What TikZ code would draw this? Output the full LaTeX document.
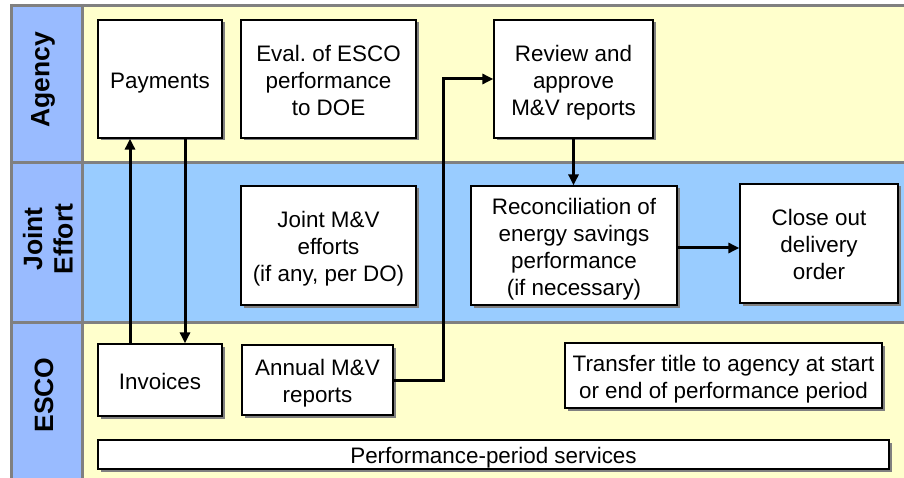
\documentclass[tikz,border=0pt]{standalone}
\usepackage{fontspec}
\setmainfont{Liberation Sans}
\usetikzlibrary{arrows.meta,shadows}
\frenchspacing

\definecolor{lanecol}{RGB}{153,187,255}
\definecolor{jointfill}{RGB}{153,204,255}
\definecolor{partyfill}{RGB}{255,255,204}
\definecolor{framegray}{RGB}{128,128,128}

% centred lines of a task box, with a little extra room above the first line
\newcommand\boxtext[1]{\begin{tabular}{@{}c@{}}\rule{0pt}{26.4pt}#1\end{tabular}}

\tikzset{
  taskbox/.style={draw=black, line width=1.2pt, fill=white,
    font=\fontsize{22.4}{27}\selectfont, inner sep=0pt,
    drop shadow={shadow xshift=2.5pt, shadow yshift=-2.5pt, fill=framegray, opacity=1}},
  lanelabel/.style={rotate=90, align=center, font=\fontsize{26.5}{30.5}\selectfont\bfseries},
  flow/.style={line width=3pt, -{Triangle[length=11pt,width=10pt]}},
  divider/.style={draw=framegray, line width=3pt}
}

\begin{document}
\begin{tikzpicture}[x=1pt, y=-1pt]
  \useasboundingbox (0,0) rectangle (904,478);

  % swimlane backgrounds
  \fill[partyfill] (12,5) rectangle (904,478);
  \fill[jointfill] (82,162) rectangle (904,322);
  \fill[lanecol] (12,5) rectangle (82,478);

  % frame and lane dividers
  \draw[divider] (10,5.3) -- (904,5.3);
  \draw[divider] (11.3,4) -- (11.3,478);
  \draw[divider] (82.3,4) -- (82.3,478);
  \draw[divider] (10,162.5) -- (904,162.5);
  \draw[divider] (10,322.3) -- (904,322.3);

  % lane titles
  \node[lanelabel] (lagency) at (43,80) {Agency};
  \node[lanelabel] (ljoint) at (48,239) {Joint\\Effort};
  \node[lanelabel] (lesco) at (44,395) {ESCO};

  % Agency lane
  \node[taskbox, minimum width=124pt, minimum height=118pt] (pay) at (160,79) {\boxtext{Payments}};
  \node[taskbox, minimum width=175pt, minimum height=118pt] (eval) at (328.5,79) {\boxtext{Eval. of ESCO\\performance\\to DOE}};
  \node[taskbox, minimum width=159pt, minimum height=118pt] (rev) at (573.5,79) {\boxtext{Review and\\approve\\M\&V reports}};

  % Joint effort lane
  \node[taskbox, minimum width=175pt, minimum height=119pt] (jmv) at (328.5,245.5) {\boxtext{Joint M\&V\\efforts\\(if any, per DO)}};
  \node[taskbox, minimum width=206pt, minimum height=119pt] (rec) at (574,245.5) {\boxtext{Reconciliation of\\energy savings\\performance\\(if necessary)}};
  \node[taskbox, minimum width=158pt, minimum height=119pt] (close) at (819,243.5) {\boxtext{Close out\\delivery\\order}};

  % ESCO lane
  \node[taskbox, minimum width=124pt, minimum height=72pt] (inv) at (160,380) {\boxtext{Invoices}};
  \node[taskbox, minimum width=151pt, minimum height=70pt] (ann) at (317.5,380) {\boxtext{Annual M\&V\\reports}};
  \node[taskbox, minimum width=317pt, minimum height=65pt] (title) at (723.5,375.5) {\boxtext{Transfer title to agency at start\\or end of performance period}};
  \node[taskbox, minimum width=791pt, minimum height=29pt] (serv) at (493.5,454.5) {\rule{0pt}{22pt}Performance-period services};

  % connector guides
  \coordinate (upx) at (130,0);
  \coordinate (downx) at (185,0);
  \coordinate (bend) at (443,0);
  \coordinate (recy) at (0,248);

  % connectors
  \draw[flow] (inv.north -| upx) -- (pay.south -| upx);
  \draw[flow] (pay.south -| downx) -- (inv.north -| downx);
  \draw[flow] (ann.east) -| (bend |- rev.west) -- (rev.west);
  \draw[flow] (rev.south) -- (rev.south |- rec.north);
  \draw[flow] (rec.east |- recy) -- (close.west |- recy);
\end{tikzpicture}
\end{document}
